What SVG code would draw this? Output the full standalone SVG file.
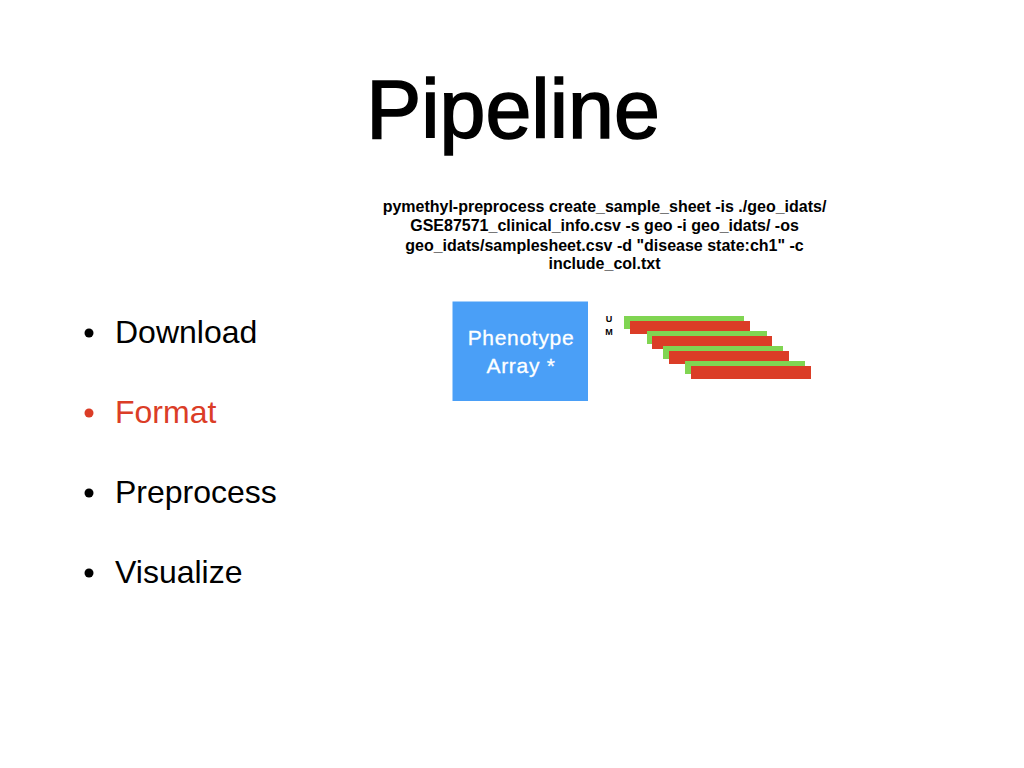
<svg xmlns="http://www.w3.org/2000/svg" width="1024" height="768" viewBox="0 0 1024 768">
<style>
text{font-family:"Liberation Sans",Arial,sans-serif}
.title{font-size:82.5px;fill:#000;stroke:#000;stroke-width:1.6}
.cmd{font-size:16px;font-weight:bold;fill:#000;text-anchor:middle}
.bul{font-size:32px;fill:#000}
.red{fill:#DB3D27}
.g{fill:#80D552}
.r{fill:#DB3D27}
.lbl{font-size:9px;font-weight:bold;text-anchor:middle}
.ph{font-size:21px;fill:#fff;text-anchor:middle;letter-spacing:0.7px;stroke:#fff;stroke-width:0.3}
</style>
<rect width="1024" height="768" fill="#fff"/>
<text id="title" class="title" x="513" y="138" text-anchor="middle">Pipeline</text>
<g id="command">
<text class="cmd" x="604.5" y="212">pymethyl-preprocess create_sample_sheet -is ./geo_idats/</text>
<text class="cmd" x="604.5" y="231">GSE87571_clinical_info.csv -s geo -i geo_idats/ -os</text>
<text class="cmd" x="604.5" y="251">geo_idats/samplesheet.csv -d "disease state:ch1" -c</text>
<text class="cmd" x="604.5" y="269">include_col.txt</text>
</g>
<g id="bullets">
<circle cx="89" cy="333" r="4.5"/>
<text class="bul" x="115" y="343">Download</text>
<circle cx="89" cy="413" r="4.5" class="red"/>
<text class="bul red" x="115" y="423">Format</text>
<circle cx="89" cy="493" r="4.5"/>
<text class="bul" x="115" y="503">Preprocess</text>
<circle cx="89" cy="573" r="4.5"/>
<text class="bul" x="115" y="583">Visualize</text>
</g>
<g id="phenotype">
<rect x="452.5" y="301.5" width="135.5" height="99.5" fill="#4A9FF7"/>
<text class="ph" x="521" y="345">Phenotype</text>
<text class="ph" x="521" y="373">Array *</text>
</g>
<g id="arrays">
<text class="lbl" x="609" y="322">U</text>
<text class="lbl" x="609" y="335">M</text>
<rect class="g" x="624" y="316" width="120" height="13"/>
<rect class="r" x="630" y="321" width="120" height="13"/>
<rect class="g" x="647" y="331" width="120" height="13"/>
<rect class="r" x="652" y="336" width="120" height="13"/>
<rect class="g" x="663" y="346" width="120" height="13"/>
<rect class="r" x="669" y="351" width="120" height="13"/>
<rect class="g" x="685" y="361" width="120" height="13"/>
<rect class="r" x="691" y="366" width="120" height="13"/>
</g>
</svg>
